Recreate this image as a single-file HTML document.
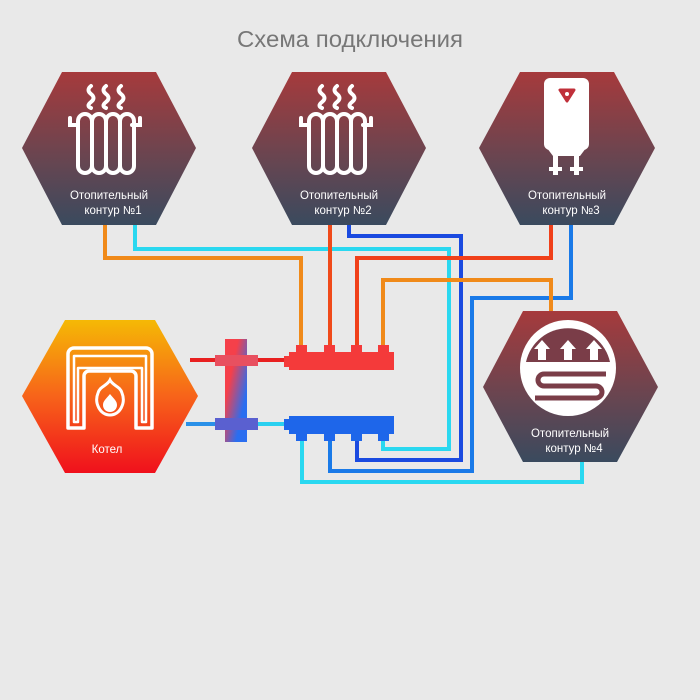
<!DOCTYPE html>
<html><head><meta charset="utf-8"><style>
html,body{margin:0;padding:0;background:#e9e9e9;}
svg{display:block;}
text{font-family:"Liberation Sans","DejaVu Sans",sans-serif;}
</style></head><body>
<svg width="700" height="700" viewBox="0 0 700 700" xmlns="http://www.w3.org/2000/svg">
<defs>
<linearGradient id="hx" x1="0" y1="0" x2="0" y2="1">
<stop offset="0" stop-color="#a63a3c"/><stop offset="0.55" stop-color="#6a4550"/><stop offset="1" stop-color="#3a4a5e"/>
</linearGradient>
<linearGradient id="bo" x1="0" y1="0" x2="0" y2="1">
<stop offset="0" stop-color="#f5b905"/><stop offset="0.5" stop-color="#f7631a"/><stop offset="1" stop-color="#f0101c"/>
</linearGradient>
<linearGradient id="sep" x1="0" y1="0" x2="1" y2="1">
<stop offset="0.3" stop-color="#f5404a"/><stop offset="0.75" stop-color="#2a6ef0"/>
</linearGradient>
</defs>

<text x="350" y="47" text-anchor="middle" font-size="23" fill="#777" textLength="226" lengthAdjust="spacingAndGlyphs">Схема подключения</text>

<g fill="none" stroke-width="4" stroke-linejoin="miter">
<polyline points="105,225 105,258 301,258 301,347" stroke="#f08a1a"/>
<polyline points="135,225 135,249 449,249 449,449 383,449 383,438" stroke="#2ad8f0"/>
<polyline points="330,225 330,347" stroke="#f04a1a"/>
<polyline points="349,225 349,236 461,236 461,460 357,460 357,438" stroke="#1a4ae0"/>
<polyline points="551,225 551,258 357,258 357,347" stroke="#f0401a"/>
<polyline points="571,225 571,298 472,298 472,471 330,471 330,438" stroke="#1a7ae8"/>
<polyline points="551,312 551,280 383,280 383,347" stroke="#f08a1a"/>
<polyline points="582,462 582,482 302,482 302,438" stroke="#2ad8f0"/>
<line x1="190" y1="360" x2="290" y2="360" stroke="#e82020"/>
<line x1="190" y1="424" x2="290" y2="424" stroke="#2ad0f0"/>
<line x1="186" y1="424" x2="215" y2="424" stroke="#2a90e8"/>
</g>

<g fill="url(#sep)">
<rect x="225" y="339" width="22" height="103"/>
<rect x="215" y="355" width="43" height="11" fill="#e85060"/>
<rect x="215" y="418" width="43" height="12" fill="#5a60d0"/>
</g>
<g fill="#f43a3a">
<rect x="289" y="352" width="105" height="18"/>
<rect x="284" y="356" width="6" height="11"/>
<rect x="296" y="345" width="11" height="8"/><rect x="324" y="345" width="11" height="8"/>
<rect x="351" y="345" width="11" height="8"/><rect x="378" y="345" width="11" height="8"/>
</g>
<g fill="#1e66ea">
<rect x="289" y="416" width="105" height="18"/>
<rect x="284" y="419" width="6" height="11"/>
<rect x="296" y="433" width="11" height="8"/><rect x="324" y="433" width="11" height="8"/>
<rect x="351" y="433" width="11" height="8"/><rect x="378" y="433" width="11" height="8"/>
</g>

<g fill="url(#hx)">
<polygon points="62,72 156,72 196,148 156,225 62,225 22,148"/>
<polygon points="292,72 386,72 426,148 386,225 292,225 252,148"/>
<polygon points="520,72 614,72 655,148 614,225 520,225 479,148"/>
<polygon points="523,311 617,311 658,387 617,462 523,462 483,387"/>
</g>
<polygon points="65,320 155,320 198,396 155,473 65,473 22,396" fill="url(#bo)"/>

<g id="rad" fill="none" stroke="#fff" stroke-width="4" stroke-linecap="round">
<path d="M91,86 q-5,4 0,8 q5,4 0,8 q-5,4 0,6 M106,86 q-5,4 0,8 q5,4 0,8 q-5,4 0,6 M121,86 q-5,4 0,8 q5,4 0,8 q-5,4 0,6"/>
<path d="M70,118 v7 h8 M140,118 v7 h-8"/>
<rect x="78" y="114" width="14" height="59" rx="7"/>
<rect x="92" y="114" width="14" height="59" rx="7"/>
<rect x="106" y="114" width="14" height="59" rx="7"/>
<rect x="120" y="114" width="14" height="59" rx="7"/>
</g>
<use href="#rad" transform="translate(231,0)"/>

<g fill="#fff">
<rect x="544" y="78" width="45" height="72" rx="6"/>
<path d="M547,148 h39 l-6,8 h-27z"/>
<rect x="553" y="155" width="5" height="20"/><rect x="574" y="155" width="5" height="20"/>
<rect x="549" y="167" width="13" height="4"/><rect x="570" y="167" width="13" height="4"/>
</g>
<path d="M560,90 h14 l-7,11z" fill="#c0303a" stroke="#c0303a" stroke-width="3" stroke-linejoin="round"/>
<circle cx="567" cy="94" r="2" fill="#fff"/>

<circle cx="568" cy="368" r="48" fill="#fff"/>
<path d="M526,362 A43,43 0 0 1 610,362 Z" fill="#7a3d48"/>
<g fill="#fff">
<path d="M534,349 l8,-9 8,9 h-4 v11 h-8 v-11z"/>
<path d="M560,349 l8,-9 8,9 h-4 v11 h-8 v-11z"/>
<path d="M586,349 l8,-9 8,9 h-4 v11 h-8 v-11z"/>
</g>
<path d="M606,374 H544 a6,6 0 0 0 0,12 H596 a6,6 0 0 1 0,12 H535" fill="none" stroke="#7a3d48" stroke-width="5"/>

<!-- boiler icon -->
<g fill="none" stroke="#fff" stroke-width="3.5" stroke-linejoin="round">
<path d="M68,428 V354 a6,6 0 0 1 6,-6 H146 a6,6 0 0 1 6,6 V428 H136 V376 a5,5 0 0 0 -5,-5 H89 a5,5 0 0 0 -5,5 V428 Z"/>
<path d="M74,422 V356 H146 V422 H142 V368 H78 V422 Z" stroke-width="2.5"/>
</g>
<path d="M110,380 c-3,6 -10,6 -12,13 c-4,10 2,22 12,22 c10,0 16,-12 12,-22 c-2,-7 -9,-7 -12,-13z" fill="none" stroke="#fff" stroke-width="3"/>
<path d="M110,394 c-4,5 -7,7 -7,11 c0,4 3,7 7,7 c4,0 7,-3 7,-7 c0,-4 -3,-6 -7,-11z" fill="#fff"/>

<g fill="#fff" font-size="11.5" text-anchor="middle">
<text x="109" y="199">Отопительный</text><text x="113" y="214">контур  №1</text>
<text x="339" y="199">Отопительный</text><text x="343" y="214">контур  №2</text>
<text x="567" y="199">Отопительный</text><text x="571" y="214">контур  №3</text>
<text x="570" y="437">Отопительный</text><text x="574" y="452">контур  №4</text>
<text x="107" y="453">Котел</text>
</g>
</svg>
</body></html>
